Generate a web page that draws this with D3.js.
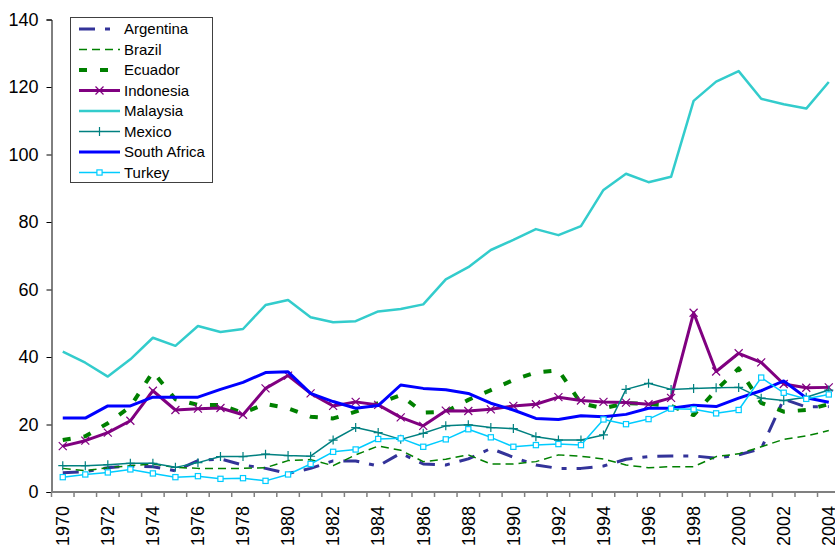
<!DOCTYPE html>
<html>
<head>
<meta charset="utf-8">
<script src="https://cdn.jsdelivr.net/npm/d3@7/dist/d3.min.js"></script>
<style>
  html, body { margin: 0; padding: 0; background: #fff; }
  svg { display: block; font-family: "Liberation Sans", Arial, sans-serif; }
</style>
</head>
<body>
<svg id="chart" width="835" height="546"></svg>
<script>
// Years on the category axis
const years = [1970,1971,1972,1973,1974,1975,1976,1977,1978,1979,1980,1981,1982,1983,1984,1985,1986,1987,1988,1989,1990,1991,1992,1993,1994,1995,1996,1997,1998,1999,2000,2001,2002,2003,2004];
const yTicks = [0,20,40,60,80,100,120,140];

const argentina   = [5.7,6.0,7.2,7.7,7.5,6.3,9.3,9.8,8.0,7.0,5.5,7.0,9.2,9.2,7.7,11.5,8.3,8.0,9.8,12.9,10.3,8.0,7.0,7.0,7.7,9.7,10.5,10.7,10.7,10.0,11.0,12.8,27.5,25.2,25.3];
const brazil      = [7.0,6.3,7.2,7.8,8.3,7.3,7.0,7.0,7.0,7.2,9.3,9.6,7.8,11.0,13.6,12.4,9.0,9.7,11.0,8.3,8.3,9.0,11.0,10.6,9.8,8.0,7.2,7.5,7.5,10.5,11.3,13.4,15.6,16.6,18.2];
const ecuador     = [15.4,16.5,20.4,25.3,35.6,27.5,25.8,25.8,23.4,26.1,24.8,22.3,21.8,23.8,26.3,28.7,23.5,23.8,27.3,30.2,33.2,35.4,36.1,26.3,24.8,26.3,26.1,25.5,22.8,30.2,36.6,26.4,23.8,24.3,26.0];
const indonesia   = [13.6,15.2,17.6,21.1,30.0,24.3,24.7,24.9,22.9,30.7,34.5,29.2,25.5,26.7,25.8,22.1,19.6,24.1,24.0,24.5,25.5,26.0,28.1,27.1,26.7,26.5,26.0,27.9,53.1,35.7,41.1,38.4,32.0,30.9,31.0];
const malaysia    = [41.6,38.3,34.2,39.3,45.7,43.3,49.2,47.4,48.3,55.4,56.9,51.8,50.3,50.6,53.5,54.2,55.6,63.0,66.6,71.7,74.7,77.9,76.1,78.8,89.5,94.3,91.8,93.4,115.9,121.6,124.7,116.5,114.9,113.6,121.5];
const mexico      = [7.8,7.8,8.1,8.5,8.5,7.3,8.7,10.5,10.5,11.2,10.8,10.6,15.4,19.1,17.6,15.6,17.4,19.6,19.9,19.1,18.8,16.4,15.4,15.4,16.9,30.4,32.2,30.4,30.7,30.9,31.0,27.8,27.1,28.1,30.2];
const southAfrica = [21.9,21.9,25.5,25.5,28.1,28.1,28.1,30.4,32.5,35.4,35.6,29.2,26.8,24.8,25.6,31.7,30.7,30.3,29.2,26.3,24.3,21.8,21.5,22.6,22.3,23.0,24.8,24.8,25.7,25.3,27.8,30.0,32.9,27.9,26.6];
const turkey      = [4.4,5.2,5.8,6.7,5.5,4.4,4.7,3.9,4.1,3.3,5.2,8.3,11.9,12.6,15.7,15.9,13.4,15.6,18.6,16.2,13.4,13.9,14.2,13.9,21.5,20.1,21.6,24.7,24.5,23.3,24.3,33.9,29.4,27.6,28.9];

const seriesNames = ["Argentina","Brazil","Ecuador","Indonesia","Malaysia","Mexico","South Africa","Turkey"];
const seriesValues = [argentina, brazil, ecuador, indonesia, malaysia, mexico, southAfrica, turkey];

// Line styling for each series
const styles = {
  "Argentina":    {color: "#333399", width: 3,   dash: "16,10,5,10", marker: null},
  "Brazil":       {color: "#008000", width: 1.5, dash: "8,5",        marker: null},
  "Ecuador":      {color: "#008000", width: 4,   dash: "8,13",       marker: null},
  "Indonesia":    {color: "#800080", width: 3,   dash: null,         marker: "x"},
  "Malaysia":     {color: "#33CCCC", width: 2.5, dash: null,         marker: null},
  "Mexico":       {color: "#008080", width: 1.5, dash: null,         marker: "+"},
  "South Africa": {color: "#0000FF", width: 3,   dash: null,         marker: null},
  "Turkey":       {color: "#00CCFF", width: 1.5, dash: null,         marker: "square"}
};

const svg = d3.select("#chart");
const left = 51.5, bandW = 22.53;
const x = d3.scaleBand().domain(years).range([left, left + bandW * years.length]).padding(0);
const y = d3.scaleLinear().domain([0, 140]).range([492, 19.5]);
const cx = d => x(d) + x.bandwidth() / 2;

// Y axis
const yAxis = svg.append("g")
  .attr("transform", `translate(${left},0)`)
  .call(d3.axisLeft(y).tickValues(yTicks).tickSize(5).tickPadding(8).tickFormat(d3.format("d")));
yAxis.select(".domain").attr("stroke", "#000").attr("stroke-width", 1);
yAxis.selectAll(".tick line").attr("stroke", "#000");
yAxis.selectAll(".tick text").attr("font-size", 18).attr("fill", "#000")
  .attr("font-family", "Liberation Sans, Arial, sans-serif");

// X axis: ticks sit on band boundaries, labels at band centres
const xAxisG = svg.append("g").attr("transform", "translate(0,492)");
xAxisG.append("line")
  .attr("x1", left).attr("x2", left + bandW * years.length)
  .attr("stroke", "#808080").attr("stroke-width", 2);
xAxisG.selectAll("line.tk")
  .data(years.concat(["end"]))
  .join("line").attr("class", "tk")
  .attr("x1", (d, i) => left + i * bandW).attr("x2", (d, i) => left + i * bandW)
  .attr("y1", 0).attr("y2", 5)
  .attr("stroke", "#808080").attr("stroke-width", 1.5);
xAxisG.selectAll("text")
  .data(years.filter((d, i) => i % 2 === 0))
  .join("text")
  .attr("transform", d => `translate(${cx(d)},14) rotate(-90)`)
  .attr("text-anchor", "end")
  .attr("dy", "0.35em")
  .attr("font-size", 18)
  .attr("fill", "#000")
  .text(d => d);

// Marker painter shared by plot and legend
function drawMarker(g, px, py, st) {
  if (st.marker === "x") {
    const s = 4;
    g.append("path")
      .attr("d", `M${px - s},${py - s}L${px + s},${py + s}M${px - s},${py + s}L${px + s},${py - s}`)
      .attr("stroke", st.color).attr("stroke-width", 1.2).attr("fill", "none");
  } else if (st.marker === "+") {
    const s = 4.5;
    g.append("path")
      .attr("d", `M${px - s},${py}L${px + s},${py}M${px},${py - s}L${px},${py + s}`)
      .attr("stroke", st.color).attr("stroke-width", 1.2).attr("fill", "none");
  } else if (st.marker === "square") {
    const s = 2.6;
    g.append("rect")
      .attr("x", px - s).attr("y", py - s).attr("width", 2 * s).attr("height", 2 * s)
      .attr("stroke", st.color).attr("stroke-width", 1.2).attr("fill", "#fff");
  }
}

// Series lines
const plot = svg.append("g");
const line = d3.line().x(d => cx(d.year)).y(d => y(d.value));
seriesNames.forEach((name, si) => {
  const st = styles[name];
  const pts = years.map((yr, i) => ({year: yr, value: seriesValues[si][i]}));
  const g = plot.append("g");
  g.append("path")
    .datum(pts)
    .attr("d", line)
    .attr("fill", "none")
    .attr("stroke", st.color)
    .attr("stroke-width", st.width)
    .attr("stroke-dasharray", st.dash)
    .attr("stroke-linejoin", "round");
  if (st.marker) pts.forEach(p => drawMarker(g, cx(p.year), y(p.value), st));
});

// Legend
const legend = svg.append("g");
legend.append("rect")
  .attr("x", 70.5).attr("y", 17.5).attr("width", 142).attr("height", 165)
  .attr("fill", "#fff").attr("stroke", "#404040").attr("stroke-width", 1);
seriesNames.forEach((name, i) => {
  const st = styles[name];
  const ry = 29 + i * 20.5;
  legend.append("line")
    .attr("x1", 79).attr("x2", 120).attr("y1", ry).attr("y2", ry)
    .attr("stroke", st.color).attr("stroke-width", st.width)
    .attr("stroke-dasharray", st.dash);
  if (st.marker) drawMarker(legend, 99.5, ry, st);
  legend.append("text")
    .attr("x", 124).attr("y", ry).attr("dy", "0.35em")
    .attr("font-size", 15).attr("fill", "#000")
    .text(name);
});
</script>
</body>
</html>
